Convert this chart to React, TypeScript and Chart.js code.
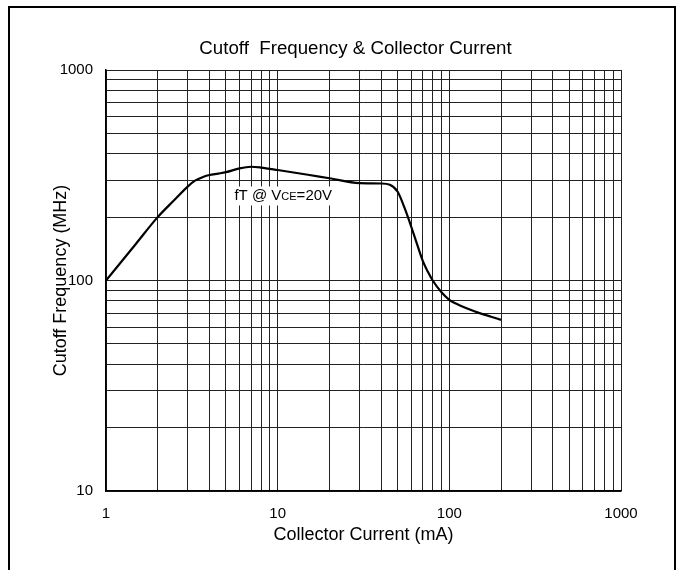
import React, { useEffect, useRef } from 'react';
import { Chart, registerables } from 'chart.js';

Chart.register(...registerables);

// Curve data: collector current (mA) vs cutoff frequency (MHz)
const currentMA = [1, 1.5, 2, 2.5, 3, 3.3, 3.7, 4, 4.5, 5, 6, 7, 8, 10, 15, 20, 30, 40, 45, 50, 55, 60, 65, 70, 75, 80, 90, 100, 110, 125, 150, 175, 200];
const cutoffMHz = [100, 150, 200, 241, 280, 298, 311, 317, 322, 327, 341, 347, 344, 335, 318, 306, 290, 289, 285, 264, 220, 180, 148, 124, 110, 100, 88, 81, 77.5, 74, 70, 67.3, 65];

// Grid / tick values
const xGridValues = [1, 2, 3, 4, 5, 6, 7, 8, 9, 10, 20, 30, 40, 50, 60, 70, 80, 90, 100, 200, 300, 400, 500, 600, 700, 800, 900, 1000];
const yGridValues = [10, 20, 30, 40, 50, 60, 70, 80, 90, 100, 200, 300, 400, 500, 600, 700, 800, 900, 1000];
const xLabelValues = [1, 10, 100, 1000];
const xLabelTexts = ['1', '10', '100', '1000'];
const yLabelValues = [10, 100, 1000];
const yLabelTexts = ['10', '100', '1000'];

const titleText = 'Cutoff  Frequency & Collector Current';
const xTitleText = 'Collector Current (mA)';
const yTitleText = 'Cutoff Frequency (MHz)';

// Annotation anchored in data space
const annotX = 5.6;
const annotY = 240;
const annotParts = ['fT @ V', 'CE', '=20V'];

const FONT = '"Liberation Sans", Arial, Helvetica, sans-serif';

function labelFor(v: number, vals: number[], texts: string[]) {
  for (let i = 0; i < vals.length; i++) {
    if (Math.abs(v - vals[i]) < 1e-9 * vals[i]) return texts[i];
  }
  return '';
}

const titlePlugin = {
  id: 'customTitle',
  afterDraw(chart: any) {
    const ctx = chart.ctx;
    ctx.save();
    ctx.fillStyle = '#000';
    ctx.font = `18.7px ${FONT}`;
    ctx.textAlign = 'center';
    ctx.textBaseline = 'alphabetic';
    ctx.fillText(titleText, 345.5, 46);
    ctx.restore();
  },
};

const annotPlugin = {
  id: 'annot',
  beforeDatasetsDraw(chart: any) {
    const ctx = chart.ctx;
    const xs = chart.scales.x;
    const ys = chart.scales.y;
    const px = xs.getPixelForValue(annotX);
    const py = ys.getPixelForValue(annotY);
    ctx.save();
    const big = `15px ${FONT}`;
    const small = `11px ${FONT}`;
    ctx.font = big;
    const w0 = ctx.measureText(annotParts[0]).width;
    const w2 = ctx.measureText(annotParts[2]).width;
    ctx.font = small;
    const w1 = ctx.measureText(annotParts[1]).width;
    const total = w0 + w1 + w2;
    ctx.fillStyle = '#fff';
    ctx.fillRect(px - 3, py - 14, total + 6, 19);
    ctx.fillStyle = '#000';
    ctx.textAlign = 'left';
    ctx.textBaseline = 'alphabetic';
    ctx.font = big;
    ctx.fillText(annotParts[0], px, py);
    ctx.font = small;
    ctx.fillText(annotParts[1], px + w0, py);
    ctx.font = big;
    ctx.fillText(annotParts[2], px + w0 + w1, py);
    ctx.restore();
  },
};

export default function App() {
  const ref = useRef<HTMLCanvasElement>(null);

  useEffect(() => {
    const canvas = ref.current!;
    const chart = new Chart(canvas, {
      type: 'line',
      data: {
        datasets: [
          {
            data: currentMA.map((x, i) => ({ x, y: cutoffMHz[i] })),
            borderColor: '#000',
            borderWidth: 2.2,
            pointRadius: 0,
            fill: false,
            cubicInterpolationMode: 'monotone',
          },
        ],
      },
      options: {
        animation: false,
        responsive: false,
        maintainAspectRatio: false,
        layout: { padding: { left: 0, top: 62, right: 53, bottom: 0 } },
        plugins: {
          legend: { display: false },
          tooltip: { enabled: false },
          title: { display: false },
        },
        scales: {
          x: {
            type: 'logarithmic',
            position: 'bottom',
            min: 1,
            max: 1000,
            afterFit: (s: any) => {
              s.height = 79;
            },
            afterBuildTicks: (s: any) => {
              s.ticks = xGridValues.map((v) => ({ value: v }));
            },
            ticks: {
              autoSkip: false,
              maxRotation: 0,
              minRotation: 0,
              padding: 14,
              color: '#000',
              font: { family: FONT, size: 15 },
              callback: (v: any) => labelFor(Number(v), xLabelValues, xLabelTexts),
            },
            grid: { color: '#222', lineWidth: 1, drawTicks: false },
            border: { color: '#000', width: 1.5 },
            title: {
              display: true,
              text: xTitleText,
              color: '#000',
              font: { family: FONT, size: 18 },
              padding: { top: 0, bottom: 24 },
            },
          },
          y: {
            type: 'logarithmic',
            position: 'left',
            min: 10,
            max: 1000,
            afterFit: (s: any) => {
              s.width = 96;
            },
            afterBuildTicks: (s: any) => {
              s.ticks = yGridValues.map((v) => ({ value: v }));
            },
            ticks: {
              autoSkip: false,
              padding: 13,
              color: '#000',
              font: { family: FONT, size: 15 },
              callback: (v: any) => labelFor(Number(v), yLabelValues, yLabelTexts),
            },
            grid: { color: '#222', lineWidth: 1, drawTicks: false },
            border: { color: '#000', width: 1.5 },
            title: {
              display: true,
              text: yTitleText,
              color: '#000',
              font: { family: FONT, size: 18 },
              padding: { top: 40, bottom: 0 },
            },
          },
        },
      },
      plugins: [titlePlugin, annotPlugin],
    } as any);
    return () => chart.destroy();
  }, []);

  return (
    <div
      style={{
        position: 'absolute',
        left: 8,
        top: 6,
        width: 668,
        height: 580,
        border: '2px solid #000',
        boxSizing: 'border-box',
        background: '#fff',
      }}
    >
      <canvas ref={ref} width={664} height={562} style={{ display: 'block', width: 664, height: 562 }} />
    </div>
  );
}
